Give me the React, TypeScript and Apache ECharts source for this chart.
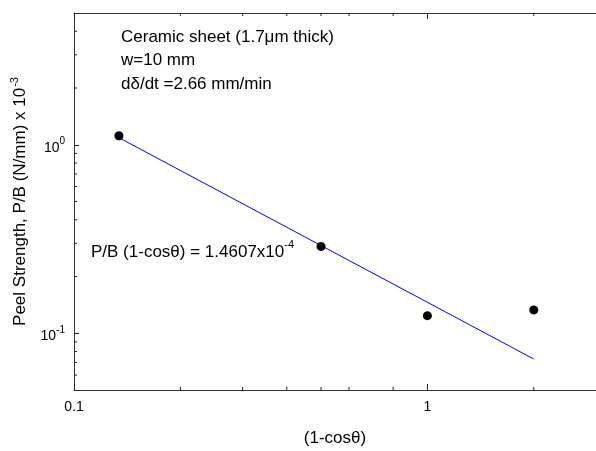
import React, { useEffect, useRef } from "react";
import * as echarts from "echarts";

const pointsX = [0.134, 0.5, 1, 2];
const pointsY = [1.116, 0.289, 0.124, 0.133];
const fitLine = [
  [0.134, 1.09],
  [2, 0.073],
];
const xMin = 0.1;
const xMax = 3;
const yMin = 0.05;
const yMax = 5;
const xMinorTicks = [0.2, 0.3, 0.4, 0.5, 0.6, 0.8, 2];
const yMinorTicks = [0.06, 0.07, 0.08, 0.09, 0.2, 0.3, 0.4, 0.5, 0.6, 0.7, 0.8, 0.9, 2, 3, 4];
const infoLines = ["Ceramic sheet (1.7\u03bcm thick)", "w=10 mm", "d\u03b4/dt =2.66 mm/min"];

const FONT = "Liberation Sans, Arial, sans-serif";
const AXIS_COLOR = "#333";

export default function App() {
  const ref = useRef<HTMLDivElement>(null);
  useEffect(() => {
    if (!ref.current) return;
    const chart = echarts.init(ref.current, null, { renderer: "svg" });
    const tickLine = (x1: number, y1: number, x2: number, y2: number) => ({
      type: "line",
      shape: { x1, y1, x2, y2 },
      style: { stroke: "#222", lineWidth: 1 },
    });
    chart.setOption({
      animation: false,
      grid: { left: 74, top: 13, right: -2, bottom: 61, containLabel: false },
      xAxis: [
        {
          type: "log",
          logBase: 10,
          min: xMin,
          max: xMax,
          name: "(1-cos\u03b8)",
          nameLocation: "middle",
          nameGap: 39,
          nameTextStyle: { fontFamily: FONT, fontSize: 17, color: "#000" },
          axisLine: { lineStyle: { color: AXIS_COLOR, width: 1 } },
          axisTick: { inside: true, length: 6, lineStyle: { color: "#222" } },
          axisLabel: {
            fontFamily: FONT,
            fontSize: 14,
            color: "#000",
            margin: 9,
            showMaxLabel: false,
            formatter: (v: number) => String(Number(v.toPrecision(3))),
          },
          splitLine: { show: false },
        },
        {
          type: "log",
          logBase: 10,
          min: xMin,
          max: xMax,
          position: "top",
          axisLine: { lineStyle: { color: AXIS_COLOR, width: 1 } },
          axisTick: { inside: true, length: 6, lineStyle: { color: "#222" } },
          axisLabel: { show: false },
          splitLine: { show: false },
        },
      ],
      yAxis: {
        type: "log",
        logBase: 10,
        min: yMin,
        max: yMax,
        name: "{n|Peel Strength, P/B (N/mm) x 10}{s|-3}",
        nameLocation: "middle",
        nameGap: 46,
        nameTextStyle: {
          fontFamily: FONT,
          color: "#000",
          rich: {
            n: { fontFamily: FONT, fontSize: 17, color: "#000", lineHeight: 20, verticalAlign: "bottom" },
            s: { fontFamily: FONT, fontSize: 11, color: "#000", lineHeight: 20, verticalAlign: "top", padding: [0, 0, 0, 1] },
          },
        },
        axisLine: { lineStyle: { color: AXIS_COLOR, width: 1 } },
        axisTick: { inside: true, length: 5, lineStyle: { color: "#222" } },
        axisLabel: {
          fontFamily: FONT,
          color: "#000",
          margin: 9,
          showMinLabel: false,
          showMaxLabel: false,
          formatter: (v: number) => `{b|10}{s|${Math.round(Math.log10(v))}}`,
          rich: {
            b: { fontFamily: FONT, fontSize: 14, color: "#000", lineHeight: 18, verticalAlign: "bottom" },
            s: { fontFamily: FONT, fontSize: 10, color: "#000", lineHeight: 18, verticalAlign: "top" },
          },
        },
        splitLine: { show: false },
      },
      graphic: [
        ...infoLines.map((t, i) => ({
          type: "text",
          x: 121,
          y: 36 + i * 23.5,
          style: { text: t, font: `17px ${FONT}`, fill: "#000", verticalAlign: "middle", align: "left" },
        })),
        {
          type: "text",
          x: 91,
          y: 249,
          style: {
            text: "{n|P/B (1-cos\u03b8) = 1.4607x10}{s|-4}",
            verticalAlign: "middle",
            align: "left",
            rich: {
              n: { fontFamily: FONT, fontSize: 17, fill: "#000", lineHeight: 22, verticalAlign: "bottom" },
              s: { fontFamily: FONT, fontSize: 11, fill: "#000", lineHeight: 22, verticalAlign: "top" },
            },
          },
        },
      ],
      series: [
        {
          type: "line",
          data: fitLine,
          showSymbol: false,
          lineStyle: { color: "#0000ff", width: 1 },
          z: 2,
        },
        {
          type: "scatter",
          data: pointsX.map((x, i) => [x, pointsY[i]]),
          symbol: "circle",
          symbolSize: 9,
          itemStyle: { color: "#000", opacity: 1 },
          z: 3,
        },
        {
          type: "custom",
          data: xMinorTicks.map((v) => [v, yMin]),
          clip: false,
          silent: true,
          renderItem: (params: any, api: any) => {
            const b = api.coord([api.value(0), yMin]);
            const t = api.coord([api.value(0), yMax]);
            return {
              type: "group",
              children: [tickLine(b[0], b[1], b[0], b[1] - 3), tickLine(t[0], t[1], t[0], t[1] + 3)],
            };
          },
        },
        {
          type: "custom",
          data: yMinorTicks.map((v) => [xMin, v]),
          clip: false,
          silent: true,
          renderItem: (params: any, api: any) => {
            const p = api.coord([xMin, api.value(1)]);
            return tickLine(p[0], p[1], p[0] + 3, p[1]);
          },
        },
      ],
    });
    return () => chart.dispose();
  }, []);
  return <div ref={ref} style={{ position: "fixed", left: 0, top: 0, width: 596, height: 451 }} />;
}
